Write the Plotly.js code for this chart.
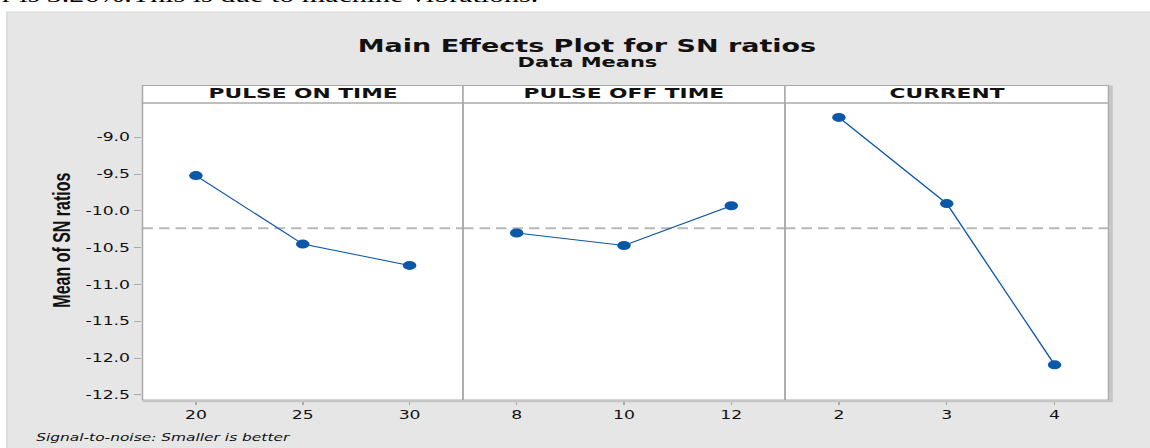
<!DOCTYPE html>
<html><head><meta charset="utf-8">
<script src="https://cdn.plot.ly/plotly-3.0.1.min.js"></script>
<style>
html,body{margin:0;padding:0;overflow:hidden;background:#fff;width:1150px;height:448px;}
#wrap{width:767px;height:448px;transform:scaleX(1.5);transform-origin:0 0;}
</style></head><body><div id="wrap"><div id="chart" style="width:767px;height:448px"></div></div>
<script>
// ---- data ----
const factorNames = ["PULSE ON TIME", "PULSE OFF TIME", "CURRENT"];
const pulseOnLevels = [20, 25, 30];
const pulseOnMeans = [-9.52, -10.45, -10.74];
const pulseOffLevels = [8, 10, 12];
const pulseOffMeans = [-10.30, -10.47, -9.93];
const currentLevels = [2, 3, 4];
const currentMeans = [-8.73, -9.90, -12.09];
const yTickValues = [-9.0, -9.5, -10.0, -10.5, -11.0, -11.5, -12.0, -12.5];
const titleText = "Main Effects Plot for SN ratios";
const subtitleText = "Data Means";
const yTitleText = "Mean of SN ratios";
const footText = "Signal-to-noise: Smaller is better";
const docText = "error is 3.26%.This is due to machine vibrations.";

// ---- layout helpers ----
const W = 767, H = 448;
const M = {l: 95, r: 28, t: 103, b: 48};
const domains = [[0, 0.3318], [0.3318, 0.6651], [0.6651, 1]];
const levels = [pulseOnLevels, pulseOffLevels, currentLevels];
const means = [pulseOnMeans, pulseOffMeans, currentMeans];
const allMeans = [].concat(pulseOnMeans, pulseOffMeans, currentMeans);
const grandMean = allMeans.reduce((a, b) => a + b, 0) / allMeans.length;
const headerTop = 1.0586;

function padRange(arr) {
  const lo = Math.min(...arr), hi = Math.max(...arr), p = (hi - lo) * 0.25;
  return [lo - p, hi + p];
}

const blue = '#0B57A8';
const lineGray = '#a9a9a9';
const tickFont = {family: 'DejaVu Sans', size: 11.5, color: '#111'};

const axNames = ['x', 'x2', 'x3'];
const traces = levels.map((lv, i) => ({
  type: 'scatter', mode: 'lines+markers',
  x: lv, y: means[i], xaxis: axNames[i], yaxis: 'y',
  line: {color: blue, width: 1},
  marker: {color: blue, size: 9},
  hoverinfo: 'skip', showlegend: false
}));

const layout = {
  width: W, height: H, margin: M,
  paper_bgcolor: '#ffffff', plot_bgcolor: '#ffffff',
  showlegend: false,
  title: {
    text: titleText, xref: 'paper', x: 0.4601, xanchor: 'center',
    yref: 'container', y: 1 - 45.5 / H, yanchor: 'middle',
    font: {family: 'DejaVu Sans', size: 18, weight: 'bold', color: '#111'}
  },
  yaxis: {
    range: [-12.568, -8.534], tickvals: yTickValues,
    ticktext: yTickValues.map(v => v.toFixed(1)),
    ticks: 'outside', ticklen: 5, tickwidth: 1, tickcolor: lineGray,
    showgrid: false, zeroline: false, showline: false, tickfont: tickFont
  },
  shapes: [],
  annotations: []
};

// grey page panel, then white plotting area on top of it
layout.shapes.push({
  type: 'rect', xref: 'paper', yref: 'paper', layer: 'below',
  x0: -0.1403, x1: 1.3, y0: -0.6, y1: 1.3064,
  fillcolor: '#e6e6e6', line: {color: '#d6d6d6', width: 1}
});
layout.shapes.push({
  type: 'rect', xref: 'paper', yref: 'paper', layer: 'below',
  x0: 0, x1: 1, y0: 0, y1: 1,
  fillcolor: '#ffffff', line: {width: 0}
});

levels.forEach((lv, i) => {
  const key = i === 0 ? 'xaxis' : 'xaxis' + (i + 1);
  const rng = padRange(lv);
  layout[key] = {
    domain: domains[i], range: rng, anchor: 'y',
    tickvals: lv, ticktext: lv.map(String),
    ticks: 'outside', ticklen: 4, tickwidth: 1, tickcolor: lineGray,
    showgrid: false, zeroline: false, showline: false, tickfont: tickFont
  };
  // grand mean reference line
  layout.shapes.push({
    type: 'line', xref: axNames[i], yref: 'y', layer: 'below',
    x0: rng[0], x1: rng[1], y0: grandMean, y1: grandMean,
    line: {color: '#b8b8b8', width: 2, dash: '7px,4px'}
  });
});

// panel frames and strip headers
domains.forEach((d, i) => {
  layout.shapes.push({
    type: 'rect', xref: 'paper', yref: 'paper', layer: 'above',
    x0: d[0], x1: d[1], y0: 0, y1: 1,
    line: {color: lineGray, width: 1}
  });
  layout.shapes.push({
    type: 'rect', xref: 'paper', yref: 'paper', layer: 'below',
    x0: d[0], x1: d[1], y0: 1, y1: headerTop,
    fillcolor: '#ffffff', line: {color: lineGray, width: 1}
  });
  layout.annotations.push({
    text: factorNames[i], xref: 'paper', yref: 'paper',
    x: (d[0] + d[1]) / 2, y: 1.0327, xanchor: 'center', yanchor: 'middle',
    showarrow: false,
    font: {family: 'DejaVu Sans', size: 14.5, weight: 'bold', color: '#111'}
  });
});

// soft shadow on right and bottom edges
layout.shapes.push({
  type: 'line', xref: 'paper', yref: 'paper', layer: 'above',
  x0: 1.0025, x1: 1.0025, y0: -0.006, y1: headerTop,
  line: {color: '#c6c6c6', width: 2.5}
});
layout.shapes.push({
  type: 'line', xref: 'paper', yref: 'paper', layer: 'above',
  x0: 0, x1: 1.004, y0: -0.004, y1: -0.004,
  line: {color: '#c6c6c6', width: 2}
});

layout.annotations.push(
  {text: subtitleText, xref: 'paper', yref: 'paper', x: 0.4601, y: 1.1364,
   xanchor: 'center', yanchor: 'middle', showarrow: false,
   font: {family: 'DejaVu Sans', size: 14, weight: 'bold', color: '#111'}},
  {text: yTitleText, xref: 'paper', yref: 'paper', x: -0.0843, y: 0.5387,
   xanchor: 'center', yanchor: 'middle', textangle: -90, showarrow: false,
   font: {family: 'Liberation Sans', size: 16, weight: 'bold', color: '#111'}},
  {text: footText, xref: 'paper', yref: 'paper', x: -0.1134, y: -0.1246,
   xanchor: 'left', yanchor: 'middle', showarrow: false,
   font: {family: 'DejaVu Sans', size: 10.3, style: 'italic', color: '#111'}},
  {text: docText, xref: 'paper', yref: 'paper', x: -0.199, y: 1.3199,
   xanchor: 'left', yanchor: 'bottom', showarrow: false,
   font: {family: 'Liberation Serif', size: 20, color: '#000'}}
);

Plotly.newPlot('chart', traces, layout, {displayModeBar: false, staticPlot: true});
</script></body></html>
